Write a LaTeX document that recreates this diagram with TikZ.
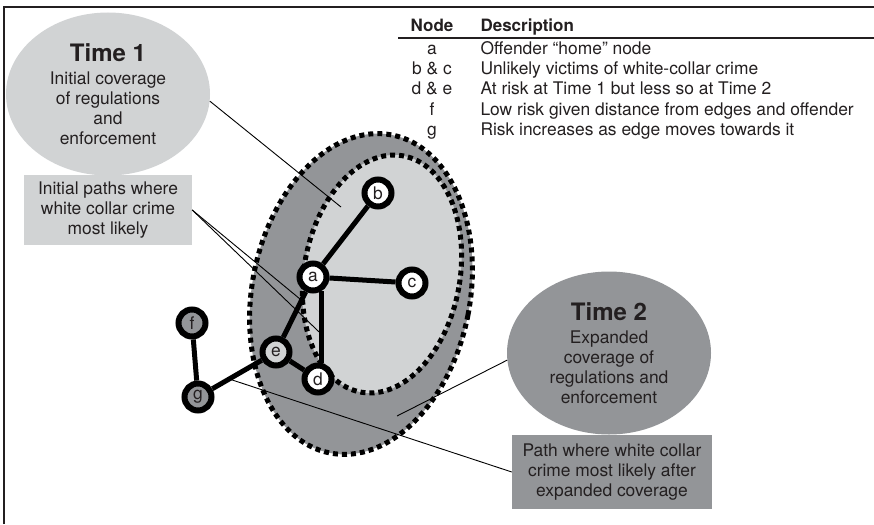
\documentclass[tikz,border=0pt]{standalone}
\usepackage{fontspec}
\setmainfont{TeX Gyre Heros}
\usepackage{tikz}
\usetikzlibrary{shapes.geometric, calc}
\definecolor{lightZone}{HTML}{D1D3D4}
\definecolor{darkZone}{HTML}{939598}
\definecolor{inkColor}{HTML}{231F20}
\tikzstyle{diagram} = [x = 1pt, y = -1pt, every node/.style={text=inkColor, font=\fontsize{17.4}{20}\selectfont}]
\tikzstyle{zoneStyle} = [draw=black, line width=5pt, dash pattern=on 5pt off 4pt]
\tikzstyle{graphNodeStyle} = [circle, draw=black, line width=6pt, minimum size=27pt, inner sep=0pt]
\tikzstyle{graphEdge} = [draw=black, line width=5pt]
\tikzstyle{pointerLine} = [draw=black, line width=0.9pt]
\tikzstyle{timeBubble} = [ellipse, minimum width=204pt, minimum height=163pt, inner sep=0pt, align=center]
\tikzstyle{calloutBox} = [rectangle, inner sep=0pt, align=center]
\tikzstyle{frameLine} = [draw=inkColor, line width=2pt]
\tikzstyle{headText} = [font=\fontsize{17}{20}\selectfont\bfseries]
\newcommand{\graphNode}[4]{\node [graphNodeStyle, fill=#4] (#1) at (#2,#3) {#1};}
\newcommand{\legendRow}[3]{\node [anchor=base] (key#1) at (432,#1) {#2}; \node [anchor=base west] (desc#1) at (477,#1) {#3};}

\begin{document}
\begin{tikzpicture}[diagram]
  \useasboundingbox (0,0) rectangle (874,524);
  % frame and legend
  \draw [frameLine] (4,524) -- (4,7) -- (874,7);
  \draw [frameLine] (398,38) -- (874,38);
  \node [headText, anchor=base] (keyHead) at (432,32) {Node};
  \node [headText, anchor=base west] (descHead) at (477,32) {Description};
  \legendRow{55}{a}{Offender “home” node}
  \legendRow{75}{b \& c}{Unlikely victims of white-collar crime}
  \legendRow{95}{d \& e}{At risk at Time 1 but less so at Time 2}
  \legendRow{115}{f}{Low risk given distance from edges and offender}
  \legendRow{135}{g}{Risk increases as edge moves towards it}
  % coverage zones
  \filldraw [zoneStyle, fill=darkZone, rotate around={-11:(361,294)}] (361,294) ellipse [x radius=109, y radius=162];
  \filldraw [zoneStyle, fill=lightZone, rotate around={-10:(382,274)}] (382,274) ellipse [x radius=78, y radius=120];
  % network
  \graphNode{a}{313}{277}{white}
  \graphNode{b}{378}{193}{white}
  \graphNode{c}{412}{283}{white}
  \graphNode{d}{318}{379}{white}
  \graphNode{e}{276}{352}{lightZone}
  \graphNode{f}{192}{323}{darkZone}
  \graphNode{g}{198}{397}{darkZone}
  \draw [graphEdge] (a) -- (b);
  \draw [graphEdge] (a) -- (c);
  \draw [graphEdge] (a.-60) -- (a.-60 |- d.north);
  \draw [graphEdge] (a) -- (e);
  \draw [graphEdge] (e) -- (d);
  \draw [graphEdge] (e) -- (g);
  \draw [graphEdge] (g) -- (f);
  % callouts
  \node [timeBubble, fill=lightZone] (time1) at (108,94) {{\fontsize{24}{26}\selectfont\bfseries Time 1}\\[3pt] Initial coverage\\ of regulations\\ and\\ enforcement};
  \node [calloutBox, fill=lightZone, minimum width=168pt, minimum height=70pt] (initBox) at (108,210) {Initial paths where\\ white collar crime\\ most likely};
  \node [timeBubble, fill=darkZone] (time2) at (609,353) {{\fontsize{24}{26}\selectfont\bfseries Time 2}\\[3pt] Expanded\\ coverage of\\ regulations and\\ enforcement};
  \node [calloutBox, fill=darkZone, minimum width=200pt, minimum height=74pt] (pathBox) at (612,472) {Path where white collar\\ crime most likely after\\ expanded coverage};
  \coordinate (t1tip) at (341,207);
  \coordinate (t2tip) at (397,416);
  \draw [pointerLine] (time1.-4) -- (t1tip);
  \draw [pointerLine] (initBox.east) -- ($(a)!0.31!(e)$);
  \draw [pointerLine] (initBox.east) -- ($(a.-60)!0.6!(a.-60 |- d.north)$);
  \draw [pointerLine] (time2.184) -- (t2tip);
  \draw [pointerLine] (pathBox.west) -- ($(e)!0.6!(g)$);
\end{tikzpicture}
\end{document}
